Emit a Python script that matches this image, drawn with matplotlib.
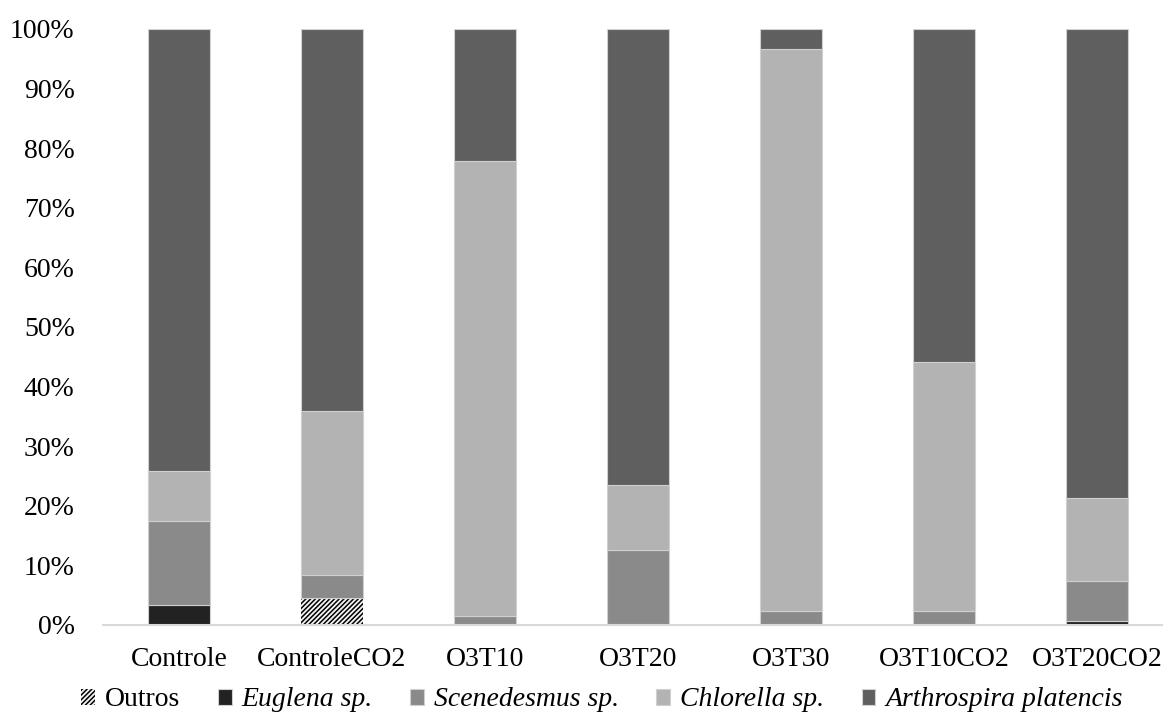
import matplotlib.pyplot as plt
import numpy as np

tratamentos = ['Controle', 'ControleCO2', 'O3T10', 'O3T20', 'O3T30', 'O3T10CO2', 'O3T20CO2']
outros = [0.0, 4.5, 0.0, 0.0, 0.0, 0.0, 0.0]
euglena = [3.4, 0.0, 0.0, 0.0, 0.0, 0.0, 0.7]
scenedesmus = [14.0, 3.9, 1.5, 12.6, 2.3, 2.3, 6.7]
chlorella = [8.4, 27.5, 76.3, 10.9, 94.3, 41.8, 13.9]
arthrospira = [74.2, 64.1, 22.2, 76.5, 3.4, 55.9, 78.7]

plt.rcParams['font.family'] = ['Liberation Serif', 'DejaVu Serif']
plt.rcParams['hatch.linewidth'] = 1.1

fig = plt.figure(figsize=(11.63, 7.26), dpi=100)
ax = fig.add_axes([102.5 / 1163, 101 / 726, 1071 / 1163, 596 / 726])

x = np.arange(len(tratamentos))
w = 0.40
base = np.zeros(len(tratamentos))
series = [
    ('Outros', outros, '#f4f4f4', '///////'),
    ('Euglena sp.', euglena, '#222222', None),
    ('Scenedesmus sp.', scenedesmus, '#8a8a8a', None),
    ('Chlorella sp.', chlorella, '#b3b3b3', None),
    ('Arthrospira platencis', arthrospira, '#5f5f5f', None),
]
handles = []
for nome, vals, cor, hatch in series:
    vals = np.array(vals)
    b = ax.bar(x, vals, w, bottom=base, color=cor, hatch=hatch,
               edgecolor='#d0d0d0' if hatch is None else 'black',
               linewidth=0.8 if hatch is None else 0, label=nome, zorder=2)
    handles.append(b)
    base += vals

ax.set_xlim(-0.5, len(tratamentos) - 0.5)
ax.set_ylim(0, 100)
ax.set_yticks(np.arange(0, 101, 10))
ax.set_yticklabels([f'{v}%' for v in range(0, 101, 10)])
ax.set_xticks(x)
ax.set_xticklabels(tratamentos)
ax.tick_params(axis='both', length=0, labelsize=20, colors='black')
ax.tick_params(axis='y', pad=20)
ax.tick_params(axis='x', pad=16)
for s in ['top', 'right', 'left']:
    ax.spines[s].set_visible(False)
ax.spines['bottom'].set_color('#d9d9d9')
ax.spines['bottom'].set_linewidth(1.5)

leg = fig.legend(handles=handles, loc='center', bbox_to_anchor=(602 / 1163, 1 - 700 / 726),
                 ncol=5, frameon=False, fontsize=20, handlelength=0.5, handleheight=0.5,
                 handletextpad=0.35, columnspacing=1.35, borderaxespad=0)
for t in leg.get_texts()[1:]:
    t.set_style('italic')

fig.savefig('out.png', dpi=100)
